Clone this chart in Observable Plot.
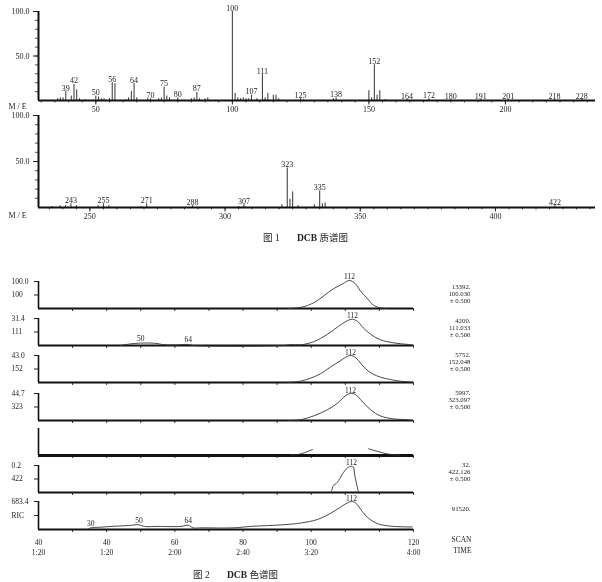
<!DOCTYPE html>
<html><head><meta charset="utf-8">
<script src="https://cdn.jsdelivr.net/npm/d3@7"></script>
<script src="https://cdn.jsdelivr.net/npm/@observablehq/plot@0.6"></script>
<style>
html,body{margin:0;padding:0;background:#fff;overflow:hidden;}
#root{position:relative;width:602px;height:582px;font-family:"Liberation Serif","DejaVu Serif","Noto Sans CJK SC",serif;color:#222;filter:grayscale(1);background:#fff;}
#root svg{position:absolute;left:0;}
.cap{position:absolute;font-size:9.5px;line-height:10px;white-space:pre;color:#222;}
.cap b{font-weight:bold;}
</style></head><body><div id="root"></div>
<script>
// ---------- Figure 1 : mass spectrum (m/z, relative intensity %) ----------
const topMz  = [36,37,38,39,41,42,43,44,46,50,51,52,53,55,56,57,61,62,63,64,65,69,70,73,74,75,76,77,80,85,86,87,88,90,91,100,101,102,103,104,105,106,107,109,111,112,113,115,116,117,125,126,137,138,150,151,152,153,154,156,164,172,180,191,201,218,228];
const topRel = [2,3,3,10,5,18,12,2,1,5,4,2,2,2,20,19,1,3,10,19,3,2,2,2,3,15,5,3,3,2,3,9,2,2,3,100,8,3,2,3,2,2,6,2,29,3,8,6,6,2,2,1,2,3,11,3,40,6,11,1,1,2,1,1,1,1,1];
const topLabelMz = [39,42,50,56,64,70,75,80,87,100,107,111,125,138,152,164,172,180,191,201,218,228];
const topTicks = [50,100,150,200];

const botMz  = [236,239,241,243,245,253,255,257,269,271,288,305,307,321,323,324,325,327,333,335,336,337,422];
const botRel = [1,2,2,4,2,2,4,2,1,4,2,1,3,3,43,9,17,2,3,18,4,5,2];
const botLabelMz = [243,255,271,288,307,323,335,422];
const botTicks = [250,300,350,400];

const relTicks = [50,100];
const relMinor = [10,20,30,40,50,60,70,80,90,100];

// ---------- Figure 2 : ion chromatograms (scan, % of panel full scale) ----------
const ionNames   = ["100","111","152","323","","422","RIC"];
const fullScale  = ["100.0","31.4","43.0","44.7","","0.2","683.4"];
const ionCounts  = ["13392.","4200.","5752.","5997.","","32.","91520."];
const ionMass    = ["100.030","111.033","152.048","323.097","","422.126",""];
const ionWindow  = ["± 0.500","± 0.500","± 0.500","± 0.500","","± 0.500",""];

const curve100 = [[93,0],[96.9,4],[100.7,21],[103.6,46],[106.5,73],[109.2,91],[111.2,104],[113,91],[114.4,66],[116.5,36],[118.2,13],[119.7,4],[122,0]];
const curve111 = [[44,0],[47,6],[50,9],[53,9],[55,7],[56.7,3],[60.4,2],[63.9,4],[65.5,0],[92,0],[94,3],[96.9,2.5],[100.7,14],[104.8,42],[108,71],[110.6,92],[112.1,97],[113.6,89],[115.3,65],[117.4,42],[120.3,21],[124.1,10],[128.2,4],[130,1]];
const curve152 = [[93,0],[96.9,5],[99.8,16],[102.7,32],[105.6,57],[108.6,81],[110.6,97],[111.5,100],[112.4,97],[113.9,81],[115.9,51],[118,32],[120.3,20],[123.2,11],[126.1,5],[129.9,1]];
const curve323 = [[93,0],[96.9,3],[100.7,17],[104.8,40],[107.7,64],[110.1,92],[111.5,100],[113,96],[115,70],[117.4,40],[120.3,17],[124.1,6],[128.2,3],[129.9,0]];
const curveUnl = [[94,1],[96.9,6],[100.4,22],[108,null],[116.8,25],[122.3,6],[126.1,1]];
const curve422 = [[105.9,1],[106.5,26],[107,30],[107.7,38],[109.2,69],[110.6,91],[111.8,97],[112.4,94],[112.7,69],[113.3,32],[113.9,1]];
const curveRIC = [[34.5,0],[35.3,6],[38,8],[41.3,11],[46.3,14],[49.5,17],[51,11],[55,11],[61.8,11],[63.9,15],[65.3,6],[67.7,6],[77.3,6],[82.3,11],[91.9,17],[96.9,23],[101.9,36],[105.7,58],[108.6,80],[110.6,95],[111.8,100],[113,95],[115,64],[116.8,40],[119.4,21],[123.2,12],[129.6,9]];
const curves = [curve100,curve111,curve152,curve323,curveUnl,curve422,curveRIC];

const minorLabels = [[], [[50,9,"50"],[63.9,4,"64"]], [], [], [], [], [[35.3,6,"30"],[49.5,17,"50"],[63.9,15,"64"]]];
const apexLabel = "112";

const scanDomain = [20,130];
const scanTicks = [30,40,50,60,70,80,90,100,110,120,130];
const scanLabelAt = [20,40,60,80,100,130];
const scanLabels = ["40","40","60","80","100","120"];
const timeLabels = ["1:20","1:20","2:00","2:40","3:20","4:00"];

// ---------- layout ----------
const root = document.getElementById("root");
const serif = '"Liberation Serif","DejaVu Serif","Noto Sans CJK SC",serif';
function place(svg, top){ svg.style.top = top + "px"; svg.style.background = "none"; root.appendChild(svg); }

function massPanel(mz, rel, labelMz, majorTicks, domain, height, mt, mb, meDy){
  const peaks = mz.map((m,i)=>({mz:m, rel:rel[i]}));
  const labeled = peaks.filter(d => labelMz.includes(d.mz));
  const minor = d3.range(Math.ceil(domain[0]/5)*5, domain[1], 5);
  return Plot.plot({
    width: 602, height, marginLeft: 38, marginRight: 7, marginTop: mt, marginBottom: mb,
    x: {domain}, y: {domain: [0,100]},
    style: {fontFamily: serif, fontSize: "8px", background: "none", color: "#222", overflow: "visible"},
    marks: [
      Plot.axisY({ticks: relMinor, tickSize: 3, tickFormat: () => "", label: null, strokeWidth: 0.8}),
      Plot.axisY({ticks: relTicks, tickSize: 5, tickPadding: 4, tickFormat: d => d.toFixed(1), label: null}),
      Plot.axisX({ticks: minor, tickSize: 2.5, tickFormat: () => "", label: null, strokeWidth: 0.8}),
      Plot.axisX({ticks: majorTicks, tickSize: 4.5, tickPadding: 1, label: null}),
      Plot.ruleX(peaks, {x: "mz", y1: 0, y2: "rel", stroke: "#333", strokeWidth: 1}),
      Plot.ruleY([0], {stroke: "#111", strokeWidth: 2}),
      Plot.ruleX([domain[0]], {stroke: "#111", strokeWidth: 2}),
      Plot.text(labeled, {x: "mz", y: "rel", text: d => String(d.mz), dy: -1, lineAnchor: "bottom"}),
      Plot.text(["M / E"], {frameAnchor: "bottom-left", dx: -30, dy: meDy, textAnchor: "start", text: d => d})
    ]
  });
}

place(massPanel(topMz, topRel, topLabelMz, topTicks, [29,233], 120, 11, 20, 8), 0);
place(massPanel(botMz, botRel, botLabelMz, botTicks, [231,437], 124, 11, 21, 10), 104);

const panelTops = [281,318,355,393,428,465,501];
const panelH    = [27,27,27,27,27,27,28];
const rightDy   = [2,-1,-4,-4,0,-4,4];

function ionPanel(i){
  const last = i === panelTops.length - 1;
  const mt = 12, mb = last ? 34 : 12;
  const curve = curves[i];
  const marks = [
    Plot.axisX({ticks: scanTicks, tickSize: 3, tickFormat: () => "", label: null, strokeWidth: 0.9}),
    Plot.ruleY([0], {stroke: "#111", strokeWidth: i === 4 ? 2.8 : 1.8}),
    Plot.ruleX([scanDomain[0]], {stroke: "#111", strokeWidth: 1.6}),
    Plot.line(curve, {x: d => d[0], y: d => d[1], curve: "catmull-rom", stroke: "#333", strokeWidth: 0.9})
  ];
  if (fullScale[i]) {
    marks.push(Plot.axisY({ticks: [50,100], tickSize: 4, tickFormat: () => "", label: null}));
    marks.push(Plot.text([{v:100, t: fullScale[i]}, {v:50, t: ionNames[i]}],
      {y: "v", text: "t", frameAnchor: "left", dx: -27, textAnchor: "start"}));
    marks.push(Plot.text(curve.filter(d => d[1] != null),
      Plot.selectMaxY({x: d => d[0], y: d => d[1], text: () => apexLabel, dy: -1, lineAnchor: "bottom"})));
  }
  if (minorLabels[i].length) {
    marks.push(Plot.text(minorLabels[i], {x: d => d[0], y: d => d[1], text: d => d[2], dy: -2, lineAnchor: "bottom"}));
  }
  const block = [ionCounts[i], ionMass[i], ionWindow[i]].filter(s => s).join("\n");
  if (block) {
    marks.push(Plot.text([block], {frameAnchor: "top-right", dx: 57, dy: rightDy[i], text: d => d,
      textAnchor: "end", lineAnchor: "top", lineHeight: 1.05, fontSize: 6.8}));
  }
  if (last) {
    marks.push(Plot.text(scanLabelAt, {x: d => d, frameAnchor: "bottom",
      text: (d, j) => scanLabels[j] + "\n" + timeLabels[j], lineAnchor: "top", dy: 8, lineHeight: 1.4}));
    marks.push(Plot.text(["SCAN\nTIME"], {frameAnchor: "bottom-right", dx: 58, dy: 5, text: d => d,
      textAnchor: "end", lineAnchor: "top", lineHeight: 1.45}));
  }
  return Plot.plot({
    width: 602, height: panelH[i] + mt + mb, marginLeft: 38, marginRight: 189, marginTop: mt, marginBottom: mb,
    x: {domain: scanDomain, axis: null}, y: {domain: [0,100], axis: null},
    style: {fontFamily: serif, fontSize: "7.5px", background: "none", color: "#222", overflow: "visible"},
    marks
  });
}
panelTops.forEach((t, i) => place(ionPanel(i), t - 12));

// captions
function cap(html, left, top){ const d = document.createElement("div"); d.className = "cap"; d.innerHTML = html; d.style.left = left + "px"; d.style.top = top + "px"; root.appendChild(d); }
cap("图 1", 263, 233);
cap("<b>DCB</b> 质谱图", 297, 233);
cap("图 2", 193, 570);
cap("<b>DCB</b> 色谱图", 227, 570);
</script></body></html>
